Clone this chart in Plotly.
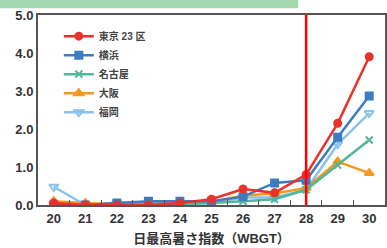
import plotly.graph_objects as go

wbgt = [20, 21, 22, 23, 24, 25, 26, 27, 28, 29, 30]
tokyo    = [0.05, 0.00, 0.00, 0.00, 0.05, 0.15, 0.42, 0.32, 0.80, 2.15, 3.90]
yokohama = [0.00, 0.00, 0.05, 0.10, 0.10, 0.10, 0.22, 0.58, 0.65, 1.78, 2.87]
nagoya   = [0.00, 0.00, 0.00, 0.00, 0.02, 0.05, 0.10, 0.15, 0.40, 1.05, 1.71]
osaka    = [0.10, 0.05, 0.02, 0.02, 0.05, 0.08, 0.25, 0.30, 0.45, 1.14, 0.84]
fukuoka  = [0.48, 0.00, 0.05, 0.05, 0.05, 0.05, 0.20, 0.20, 0.40, 1.60, 2.42]
y_ticks = [0, 1, 2, 3, 4, 5]

FONT = "Liberation Sans, Noto Sans CJK JP, sans-serif"

series = [
    ("東京 23 区", tokyo, "#e8322a", "circle", 7),
    ("横浜", yokohama, "#3d7cc4", "square", 7),
    ("名古屋", nagoya, "#4fb79b", "x-thin-open", 7),
    ("大阪", osaka, "#f39a1e", "triangle-up", 8),
    ("福岡", fukuoka, "#88c3ec", "triangle-down-open", 8),
]

fig = go.Figure()
for name, vals, color, sym, size in reversed(series):
    fig.add_trace(go.Scatter(
        x=wbgt, y=vals, name=name, mode="lines+markers",
        line=dict(color=color, width=2.5),
        marker=dict(symbol=sym, size=size, color=color,
                    line=dict(color=color, width=2)),
    ))

fig.add_shape(type="line", xref="x", yref="paper", x0=28, x1=28, y0=0, y1=1,
              line=dict(color="#ff0000", width=2.5))
fig.add_shape(type="rect", xref="paper", yref="paper", x0=-0.11, x1=0.75,
              y0=1.035, y1=1.08, fillcolor="#a6d8b0", line=dict(width=0),
              layer="below")

fig.update_layout(
    width=387, height=248,
    margin=dict(l=38, r=2, t=15, b=43, autoexpand=False),
    paper_bgcolor="white", plot_bgcolor="white",
    font=dict(family=FONT, color="#333333"),
    showlegend=True,
    legend=dict(x=0.06, y=0.965, xanchor="left", yanchor="top",
                traceorder="reversed",
                font=dict(size=10, family=FONT, color="#444444", weight="bold"),
                bgcolor="rgba(0,0,0,0)", itemwidth=30, tracegroupgap=0),
    xaxis=dict(range=[19.5, 30.5], tickvals=wbgt, ticktext=[str(v) for v in wbgt],
               ticks="", showgrid=False, zeroline=False,
               showline=True, linecolor="#555555", linewidth=2, mirror=True,
               tickfont=dict(size=13, family=FONT, color="#333333", weight="bold"),
               minor=dict(tickvals=[v + 0.5 for v in wbgt[:-1]], ticks="inside",
                          ticklen=5, tickwidth=1, tickcolor="#555555"),
               title=dict(text="日最高暑さ指数（WBGT）", standoff=9,
                          font=dict(size=13, family=FONT, color="#333333",
                                    weight="bold"))),
    yaxis=dict(range=[0, 5], tickvals=y_ticks, tickformat=".1f",
               ticks="", showgrid=False, zeroline=False,
               showline=True, linecolor="#555555", linewidth=2, mirror=True,
               tickfont=dict(size=13, family=FONT, color="#333333", weight="bold")),
)

fig.write_html("out.html", config={"displayModeBar": False},
               post_script="document.body.style.margin='0';document.body.style.overflow='hidden';")
